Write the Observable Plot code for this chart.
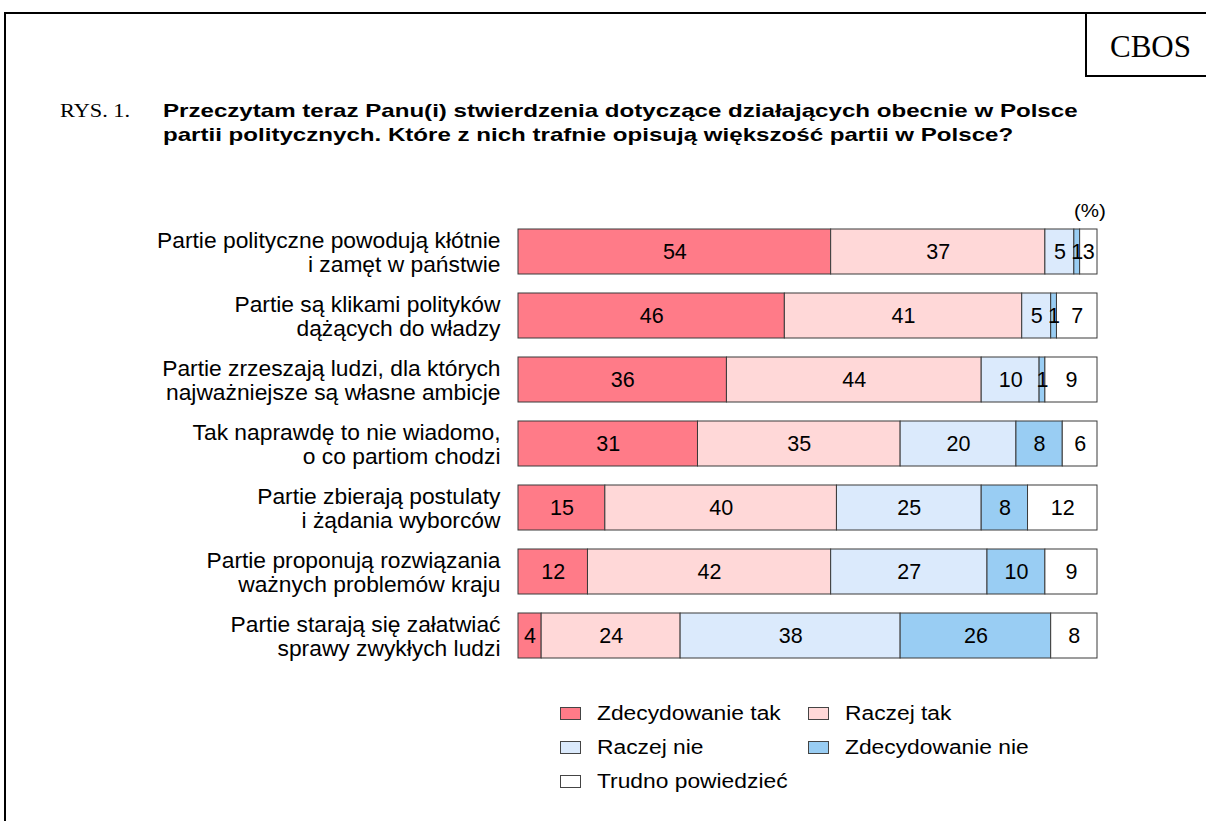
<!DOCTYPE html>
<html>
<head>
<meta charset="utf-8">
<script src="https://cdn.jsdelivr.net/npm/d3@7"></script>
<script src="https://cdn.jsdelivr.net/npm/@observablehq/plot@0.6"></script>
<style>
  html, body { margin: 0; padding: 0; background: #fff; width: 1206px; height: 821px; overflow: hidden; }
  body { position: relative; font-family: "Liberation Sans", Arial, sans-serif; color: #000; }
  .abs { position: absolute; white-space: nowrap; }
  #frame { left: 4px; top: 12px; right: -10px; bottom: -10px; border-top: 2px solid #000; border-left: 2px solid #000; }
  #cbos { left: 1085px; top: 12px; width: 140px; height: 63px; border-left: 2px solid #000; border-bottom: 2.5px solid #000; }
  #cbosText { left: 1110px; top: 30px; font-family: "Liberation Serif", "Times New Roman", serif; font-size: 31px; line-height: 34px; }
  #rys { left: 60px; top: 99px; font-family: "Liberation Serif", "Times New Roman", serif; font-size: 18.6px; line-height: 24px; transform: scaleX(1.2); transform-origin: 0 0; }
  #title { left: 163px; top: 99px; font-weight: bold; font-size: 17.8px; line-height: 24px; transform: scaleX(1.355); transform-origin: 0 0; }
  #pct { left: 1074px; top: 200px; font-size: 19px; line-height: 22px; transform: scaleX(1.08); transform-origin: 0 0; }
  #plot { left: 0; top: 0; }
  .leg { position: absolute; font-size: 20px; line-height: 24px; white-space: nowrap; transform: scaleX(1.14); transform-origin: 0 0; }
  .sw { position: absolute; width: 19px; height: 11px; border: 1px solid #444; }
</style>
</head>
<body>
<div id="frame" class="abs"></div>
<div id="cbos" class="abs"></div>
<div id="cbosText" class="abs">CBOS</div>
<div id="rys" class="abs">RYS. 1.</div>
<div id="title" class="abs">Przeczytam teraz Panu(i) stwierdzenia dotyczące działających obecnie w Polsce<br>partii politycznych. Które z nich trafnie opisują większość partii w Polsce?</div>
<div id="pct" class="abs">(%)</div>
<div id="plot" class="abs"></div>
<div id="legend"></div>
<script>
const statements = [
  "Partie polityczne powodują kłótnie\ni zamęt w państwie",
  "Partie są klikami polityków\ndążących do władzy",
  "Partie zrzeszają ludzi, dla których\nnajważniejsze są własne ambicje",
  "Tak naprawdę to nie wiadomo,\no co partiom chodzi",
  "Partie zbierają postulaty\ni żądania wyborców",
  "Partie proponują rozwiązania\nważnych problemów kraju",
  "Partie starają się załatwiać\nsprawy zwykłych ludzi"
];
const categories = ["Zdecydowanie tak", "Raczej tak", "Raczej nie", "Zdecydowanie nie", "Trudno powiedzieć"];
const colors = ["#ff7b88", "#ffd8d8", "#dbeafc", "#99cdf3", "#ffffff"];
const zdecydowanieTak = [54, 46, 36, 31, 15, 12, 4];
const raczejTak = [37, 41, 44, 35, 40, 42, 24];
const raczejNie = [5, 5, 10, 20, 25, 27, 38];
const zdecydowanieNie = [1, 1, 1, 8, 8, 10, 26];
const trudnoPowiedziec = [3, 7, 9, 6, 12, 9, 8];

const series = [zdecydowanieTak, raczejTak, raczejNie, zdecydowanieNie, trudnoPowiedziec];
const data = [];
statements.forEach((s, i) => {
  categories.forEach((c, j) => {
    data.push({statement: s, category: c, value: series[j][i]});
  });
});

const chart = Plot.plot({
  width: 1206,
  height: 690,
  marginLeft: 518,
  marginRight: 109,
  marginTop: 208.5,
  marginBottom: 12.5,
  style: {fontFamily: "'Liberation Sans', Arial, sans-serif", fontSize: "21px", background: "transparent", color: "#000"},
  x: {domain: [0, 100], axis: null},
  y: {domain: statements, padding: 0.3, label: null},
  color: {domain: categories, range: colors},
  marks: [
    Plot.barX(data, Plot.stackX({x: "value", y: "statement", fill: "category", stroke: "#3a3a3a", strokeWidth: 1})),
    Plot.textX(data, Plot.stackX({x: "value", y: "statement", z: "category", text: d => String(d.value), fill: "#000", fontSize: 21.5})),
    Plot.axisY({tickSize: 0, tickPadding: 18, label: null, textAnchor: "end", lineHeight: 24 / 22.8, fontSize: 22.8})
  ]
});
document.getElementById("plot").appendChild(chart);

const legend = document.getElementById("legend");
const legPos = [
  {x: 560, y: 713}, {x: 808, y: 713},
  {x: 560, y: 747}, {x: 808, y: 747},
  {x: 560, y: 781}
];
categories.forEach((c, j) => {
  const p = legPos[j];
  const sw = document.createElement("div");
  sw.className = "sw";
  sw.style.left = p.x + "px";
  sw.style.top = (p.y - 6) + "px";
  sw.style.background = colors[j];
  legend.appendChild(sw);
  const t = document.createElement("div");
  t.className = "leg";
  t.style.left = (p.x + 37) + "px";
  t.style.top = (p.y - 12) + "px";
  t.textContent = c;
  legend.appendChild(t);
});
</script>
</body>
</html>
